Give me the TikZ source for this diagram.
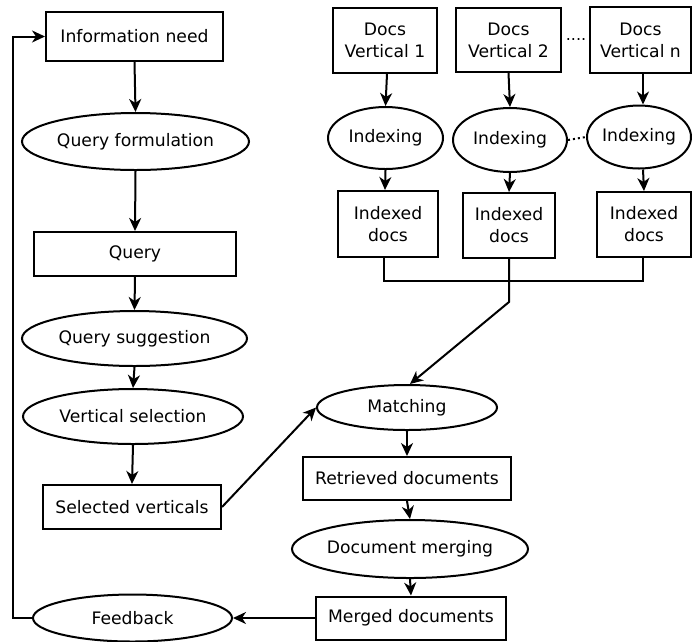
\documentclass[tikz,border=0pt]{standalone}
\usepackage{fontspec}
\setmainfont{DejaVu Sans}
\usetikzlibrary{shapes.geometric,arrows.meta}
\begin{document}
\begin{tikzpicture}[x=1pt,y=-1pt,
  lbl/.style={font=\fontsize{17.2}{22}\selectfont, inner sep=0pt, line width=2pt, draw, align=center},
  box/.style={lbl, rectangle},
  ell/.style={lbl, ellipse, inner xsep=-60pt, inner ysep=-20pt},
  arr/.style={-{Stealth[length=13pt,width=12pt,inset=4pt]}, line width=2pt},
  ln/.style={line width=2pt},
  dots/.style={font=\fontsize{16}{18}\selectfont, inner sep=0pt}]
\useasboundingbox (0,0) rectangle (692,641);
% left column
\node[box, minimum width=177pt, minimum height=49pt] (info) at (134.5,36.5) {Information need};
\node[ell, minimum width=227pt, minimum height=57pt] (qf) at (135.5,141.5) {Query formulation};
\node[box, minimum width=202pt, minimum height=44pt] (query) at (135,254) {Query};
\node[ell, minimum width=225pt, minimum height=55pt] (qs) at (134.5,338.5) {Query suggestion};
\node[ell, minimum width=220pt, minimum height=55pt] (vs) at (133,416.5) {Vertical selection};
\node[box, minimum width=178pt, minimum height=44pt] (sv) at (132,507) {Selected verticals};
\node[ell, minimum width=199pt, minimum height=47pt] (fb) at (132.5,618) {Feedback};
% right column
\node[ell, minimum width=180pt, minimum height=45pt] (match) at (407,407.5) {Matching};
\node[box, minimum width=208pt, minimum height=43pt] (ret) at (407,478.5) {Retrieved documents};
\node[ell, minimum width=236pt, minimum height=58pt] (dm) at (410,549) {Document merging};
\node[box, minimum width=190pt, minimum height=43pt] (merged) at (411,618) {Merged documents};
% verticals
\node[box, minimum width=104pt, minimum height=65pt] (dv1) at (385,40.5) {Docs\\Vertical 1};
\node[box, minimum width=105pt, minimum height=64pt] (dv2) at (508.5,40) {Docs\\Vertical 2};
\node[box, minimum width=101pt, minimum height=66pt] (dvn) at (640.5,40) {Docs\\Vertical n};
\node[dots, anchor=base] (d1) at (576,40) {....};
\node[ell, minimum width=115pt, minimum height=62pt] (ix1) at (385.5,138) {Indexing};
\node[ell, minimum width=114pt, minimum height=64pt] (ix2) at (510,140) {Indexing};
\node[ell, minimum width=104pt, minimum height=63pt] (ixn) at (639,137) {Indexing};
\node[box, minimum width=100pt, minimum height=66pt] (id1) at (388,224) {Indexed\\docs};
\node[box, minimum width=92pt, minimum height=65pt] (id2) at (509,225.5) {Indexed\\docs};
\node[box, minimum width=94pt, minimum height=65pt] (idn) at (644,224.5) {Indexed\\docs};
\coordinate (bend) at (509,302);
% connectors
\draw[arr] (info.south) -- (qf.north);
\draw[arr] (qf.south) -- (query.north);
\draw[arr] (query.south) -- (qs.north);
\draw[arr] (qs.south) -- (vs.north);
\draw[arr] (vs.south) -- (sv.north);
\draw[arr] (sv.east) -- (match.west);
\draw[arr] (match.south) -- (ret.north);
\draw[arr] (ret.south) -- (dm.north);
\draw[arr] (dm.south) -- (merged.north);
\draw[arr] (merged.west) -- (fb.east);
\coordinate (fbl) at (12.7,618);
\draw[arr] (fb.west) -- (fbl) |- (info.west);
\draw[arr] ([xshift=2pt]dv1.south) -- (ix1.north);
\draw[arr] (dv2.south) -- (ix2.north);
\draw[arr] ([xshift=2.5pt]dvn.south) -- ([xshift=4pt]ixn.north);
\draw[arr] (ix1.south) -- ([xshift=-3pt]id1.north);
\draw[arr] (ix2.south) -- (id2.north);
\draw[arr] ([xshift=4pt]ixn.south) -- (idn.north);
\draw[ln, dash pattern=on 2pt off 3pt] (ix2.east) -- (ixn.west);
\draw[ln] ([xshift=-4pt]id1.south) -- ++(0,23) -| ([xshift=-1pt]idn.south);
\draw[arr] (id2.south) -- (bend) -- ([xshift=3pt]match.north);
\end{tikzpicture}
\end{document}
